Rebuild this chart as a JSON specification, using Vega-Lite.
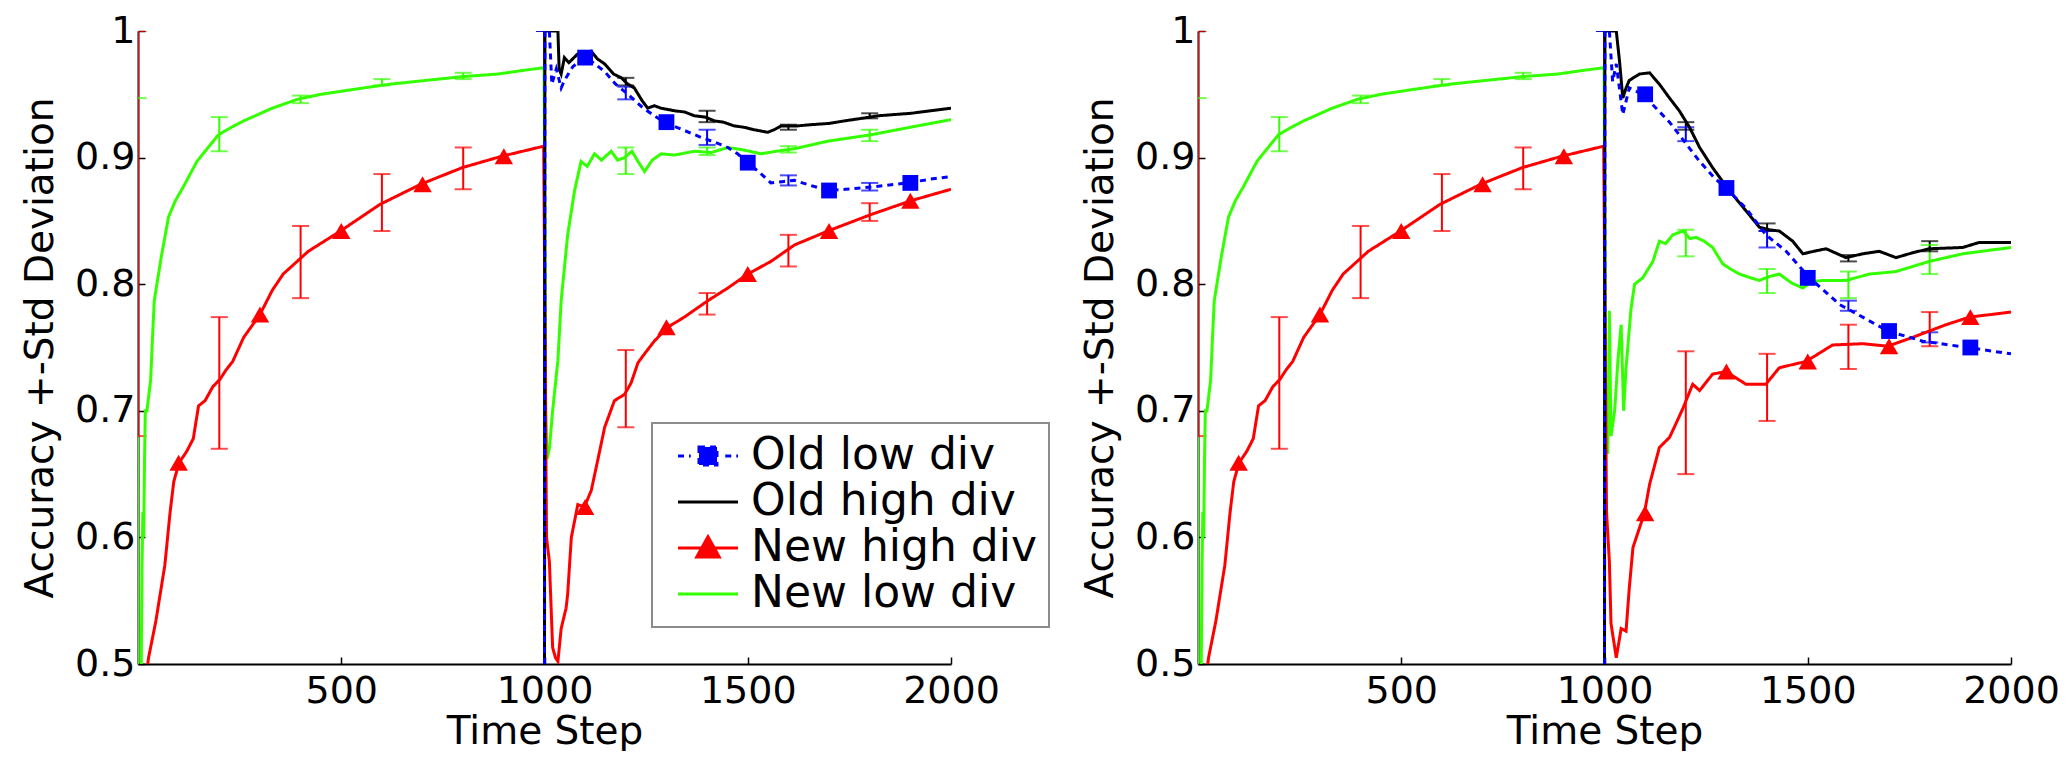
{
"$schema": "https://vega.github.io/schema/vega-lite/v6.json",
"background": "white",
"padding": {"left": 21, "top": 12, "right": 5, "bottom": 0},
"autosize": {"type": "pad"},
"bounds": "flush",
"spacing": 247,
"config": {
  "font": "DejaVu Sans",
  "view": {"stroke": null},
  "axis": {"grid": false, "domainColor": "#000", "domainWidth": 2, "tickColor": "#000", "tickWidth": 1.5, "tickSize": -7,
    "labelFont": "DejaVu Sans", "titleFont": "DejaVu Sans", "labelFontSize": 38, "titleFontSize": 39,
    "labelColor": "#000", "titleColor": "#000", "titleFontWeight": "normal", "labelFlush": false, "labelOverlap": false, "labelBound": false},
  "axisX": {"labelPadding": 15, "titlePadding": 2},
  "axisY": {"labelPadding": 10, "titlePadding": 14}
},
"resolve": {"scale": {"color": "independent", "strokeDash": "independent"}, "legend": {"color": "independent"}},
"datasets": {
"lines": [
{"panel":"both","series":"New low div","step":8,"acc":0.5},
{"panel":"both","series":"New low div","step":10,"acc":0.58},
{"panel":"both","series":"New low div","step":12,"acc":0.62},
{"panel":"both","series":"New low div","step":14,"acc":0.6},
{"panel":"both","series":"New low div","step":16,"acc":0.66},
{"panel":"both","series":"New low div","step":18,"acc":0.7},
{"panel":"both","series":"New low div","step":22,"acc":0.7},
{"panel":"both","series":"New low div","step":31,"acc":0.724},
{"panel":"both","series":"New low div","step":36,"acc":0.76},
{"panel":"both","series":"New low div","step":40,"acc":0.787},
{"panel":"both","series":"New low div","step":57,"acc":0.821},
{"panel":"both","series":"New low div","step":75,"acc":0.853},
{"panel":"both","series":"New low div","step":92,"acc":0.866},
{"panel":"both","series":"New low div","step":110,"acc":0.876},
{"panel":"both","series":"New low div","step":145,"acc":0.897},
{"panel":"both","series":"New low div","step":170,"acc":0.907},
{"panel":"both","series":"New low div","step":198,"acc":0.918},
{"panel":"both","series":"New low div","step":230,"acc":0.924},
{"panel":"both","series":"New low div","step":260,"acc":0.929},
{"panel":"both","series":"New low div","step":295,"acc":0.934},
{"panel":"both","series":"New low div","step":330,"acc":0.939},
{"panel":"both","series":"New low div","step":392,"acc":0.946},
{"panel":"both","series":"New low div","step":450,"acc":0.95},
{"panel":"both","series":"New low div","step":533,"acc":0.954},
{"panel":"both","series":"New low div","step":620,"acc":0.958},
{"panel":"both","series":"New low div","step":709,"acc":0.961},
{"panel":"both","series":"New low div","step":800,"acc":0.964},
{"panel":"both","series":"New low div","step":885,"acc":0.966},
{"panel":"both","series":"New low div","step":950,"acc":0.969},
{"panel":"both","series":"New low div","step":999,"acc":0.971},
{"panel":"both","series":"New high div","step":24,"acc":0.5},
{"panel":"both","series":"New high div","step":26,"acc":0.505},
{"panel":"both","series":"New high div","step":44,"acc":0.534},
{"panel":"both","series":"New high div","step":66,"acc":0.578},
{"panel":"both","series":"New high div","step":79,"acc":0.62},
{"panel":"both","series":"New high div","step":88,"acc":0.644},
{"panel":"both","series":"New high div","step":101,"acc":0.659},
{"panel":"both","series":"New high div","step":120,"acc":0.668},
{"panel":"both","series":"New high div","step":136,"acc":0.678},
{"panel":"both","series":"New high div","step":149,"acc":0.704},
{"panel":"both","series":"New high div","step":165,"acc":0.708},
{"panel":"both","series":"New high div","step":184,"acc":0.719},
{"panel":"both","series":"New high div","step":202,"acc":0.725},
{"panel":"both","series":"New high div","step":216,"acc":0.732},
{"panel":"both","series":"New high div","step":233,"acc":0.739},
{"panel":"both","series":"New high div","step":260,"acc":0.758},
{"panel":"both","series":"New high div","step":300,"acc":0.776},
{"panel":"both","series":"New high div","step":330,"acc":0.795},
{"panel":"both","series":"New high div","step":357,"acc":0.808},
{"panel":"both","series":"New high div","step":419,"acc":0.826},
{"panel":"both","series":"New high div","step":498,"acc":0.842},
{"panel":"both","series":"New high div","step":595,"acc":0.863},
{"panel":"both","series":"New high div","step":696,"acc":0.879},
{"panel":"both","series":"New high div","step":797,"acc":0.892},
{"panel":"both","series":"New high div","step":894,"acc":0.901},
{"panel":"both","series":"New high div","step":998,"acc":0.909},
{"panel":"L","series":"New low div","step":1003,"acc":0.7},
{"panel":"L","series":"New low div","step":1006,"acc":0.662},
{"panel":"L","series":"New low div","step":1012,"acc":0.67},
{"panel":"L","series":"New low div","step":1020,"acc":0.7},
{"panel":"L","series":"New low div","step":1033,"acc":0.74},
{"panel":"L","series":"New low div","step":1041,"acc":0.787},
{"panel":"L","series":"New low div","step":1057,"acc":0.839},
{"panel":"L","series":"New low div","step":1074,"acc":0.874},
{"panel":"L","series":"New low div","step":1090,"acc":0.897},
{"panel":"L","series":"New low div","step":1105,"acc":0.893},
{"panel":"L","series":"New low div","step":1123,"acc":0.903},
{"panel":"L","series":"New low div","step":1140,"acc":0.898},
{"panel":"L","series":"New low div","step":1164,"acc":0.905},
{"panel":"L","series":"New low div","step":1180,"acc":0.898},
{"panel":"L","series":"New low div","step":1197,"acc":0.9},
{"panel":"L","series":"New low div","step":1215,"acc":0.905},
{"panel":"L","series":"New low div","step":1230,"acc":0.897},
{"panel":"L","series":"New low div","step":1246,"acc":0.889},
{"panel":"L","series":"New low div","step":1265,"acc":0.898},
{"panel":"L","series":"New low div","step":1287,"acc":0.903},
{"panel":"L","series":"New low div","step":1320,"acc":0.902},
{"panel":"L","series":"New low div","step":1369,"acc":0.905},
{"panel":"L","series":"New low div","step":1410,"acc":0.904},
{"panel":"L","series":"New low div","step":1451,"acc":0.908},
{"panel":"L","series":"New low div","step":1490,"acc":0.906},
{"panel":"L","series":"New low div","step":1533,"acc":0.903},
{"panel":"L","series":"New low div","step":1570,"acc":0.905},
{"panel":"L","series":"New low div","step":1615,"acc":0.907},
{"panel":"L","series":"New low div","step":1697,"acc":0.913},
{"panel":"L","series":"New low div","step":1803,"acc":0.918},
{"panel":"L","series":"New low div","step":1900,"acc":0.924},
{"panel":"L","series":"New low div","step":2000,"acc":0.93},
{"panel":"L","series":"New high div","step":1005,"acc":0.6},
{"panel":"L","series":"New high div","step":1012,"acc":0.581},
{"panel":"L","series":"New high div","step":1020,"acc":0.513},
{"panel":"L","series":"New high div","step":1027,"acc":0.505},
{"panel":"L","series":"New high div","step":1033,"acc":0.502},
{"panel":"L","series":"New high div","step":1041,"acc":0.528},
{"panel":"L","series":"New high div","step":1053,"acc":0.544},
{"panel":"L","series":"New high div","step":1057,"acc":0.555},
{"panel":"L","series":"New high div","step":1066,"acc":0.6},
{"panel":"L","series":"New high div","step":1074,"acc":0.613},
{"panel":"L","series":"New high div","step":1082,"acc":0.626},
{"panel":"L","series":"New high div","step":1098,"acc":0.624},
{"panel":"L","series":"New high div","step":1115,"acc":0.637},
{"panel":"L","series":"New high div","step":1131,"acc":0.661},
{"panel":"L","series":"New high div","step":1148,"acc":0.687},
{"panel":"L","series":"New high div","step":1172,"acc":0.708},
{"panel":"L","series":"New high div","step":1197,"acc":0.713},
{"panel":"L","series":"New high div","step":1213,"acc":0.722},
{"panel":"L","series":"New high div","step":1230,"acc":0.738},
{"panel":"L","series":"New high div","step":1246,"acc":0.745},
{"panel":"L","series":"New high div","step":1270,"acc":0.755},
{"panel":"L","series":"New high div","step":1303,"acc":0.766},
{"panel":"L","series":"New high div","step":1344,"acc":0.774},
{"panel":"L","series":"New high div","step":1402,"acc":0.787},
{"panel":"L","series":"New high div","step":1451,"acc":0.797},
{"panel":"L","series":"New high div","step":1500,"acc":0.808},
{"panel":"L","series":"New high div","step":1557,"acc":0.818},
{"panel":"L","series":"New high div","step":1615,"acc":0.831},
{"panel":"L","series":"New high div","step":1697,"acc":0.842},
{"panel":"L","series":"New high div","step":1803,"acc":0.855},
{"panel":"L","series":"New high div","step":1902,"acc":0.866},
{"panel":"L","series":"New high div","step":2000,"acc":0.875},
{"panel":"L","series":"Old high div","step":1000,"acc":0.5},
{"panel":"L","series":"Old high div","step":1001,"acc":1.0},
{"panel":"L","series":"Old high div","step":1033,"acc":1.0},
{"panel":"L","series":"Old high div","step":1036,"acc":0.97},
{"panel":"L","series":"Old high div","step":1041,"acc":0.966},
{"panel":"L","series":"Old high div","step":1049,"acc":0.979},
{"panel":"L","series":"Old high div","step":1060,"acc":0.975},
{"panel":"L","series":"Old high div","step":1082,"acc":0.982},
{"panel":"L","series":"Old high div","step":1100,"acc":0.983},
{"panel":"L","series":"Old high div","step":1115,"acc":0.984},
{"panel":"L","series":"Old high div","step":1130,"acc":0.978},
{"panel":"L","series":"Old high div","step":1148,"acc":0.974},
{"panel":"L","series":"Old high div","step":1170,"acc":0.966},
{"panel":"L","series":"Old high div","step":1189,"acc":0.963},
{"panel":"L","series":"Old high div","step":1205,"acc":0.958},
{"panel":"L","series":"Old high div","step":1221,"acc":0.955},
{"panel":"L","series":"Old high div","step":1240,"acc":0.945},
{"panel":"L","series":"Old high div","step":1254,"acc":0.939},
{"panel":"L","series":"Old high div","step":1270,"acc":0.941},
{"panel":"L","series":"Old high div","step":1287,"acc":0.939},
{"panel":"L","series":"Old high div","step":1320,"acc":0.937},
{"panel":"L","series":"Old high div","step":1345,"acc":0.936},
{"panel":"L","series":"Old high div","step":1369,"acc":0.933},
{"panel":"L","series":"Old high div","step":1395,"acc":0.932},
{"panel":"L","series":"Old high div","step":1418,"acc":0.929},
{"panel":"L","series":"Old high div","step":1440,"acc":0.928},
{"panel":"L","series":"Old high div","step":1467,"acc":0.925},
{"panel":"L","series":"Old high div","step":1490,"acc":0.924},
{"panel":"L","series":"Old high div","step":1516,"acc":0.922},
{"panel":"L","series":"Old high div","step":1549,"acc":0.92},
{"panel":"L","series":"Old high div","step":1565,"acc":0.922},
{"panel":"L","series":"Old high div","step":1582,"acc":0.925},
{"panel":"L","series":"Old high div","step":1620,"acc":0.925},
{"panel":"L","series":"Old high div","step":1656,"acc":0.926},
{"panel":"L","series":"Old high div","step":1700,"acc":0.927},
{"panel":"L","series":"Old high div","step":1738,"acc":0.929},
{"panel":"L","series":"Old high div","step":1780,"acc":0.931},
{"panel":"L","series":"Old high div","step":1820,"acc":0.933},
{"panel":"L","series":"Old high div","step":1860,"acc":0.934},
{"panel":"L","series":"Old high div","step":1902,"acc":0.935},
{"panel":"L","series":"Old high div","step":1950,"acc":0.937},
{"panel":"L","series":"Old high div","step":2000,"acc":0.939},
{"panel":"L","series":"Old low div","step":1000,"acc":0.5},
{"panel":"L","series":"Old low div","step":1001,"acc":1.0},
{"panel":"L","series":"Old low div","step":1012,"acc":1.0},
{"panel":"L","series":"Old low div","step":1018,"acc":0.958},
{"panel":"L","series":"Old low div","step":1029,"acc":0.97},
{"panel":"L","series":"Old low div","step":1041,"acc":0.955},
{"panel":"L","series":"Old low div","step":1049,"acc":0.961},
{"panel":"L","series":"Old low div","step":1070,"acc":0.972},
{"panel":"L","series":"Old low div","step":1098,"acc":0.979},
{"panel":"L","series":"Old low div","step":1120,"acc":0.975},
{"panel":"L","series":"Old low div","step":1148,"acc":0.968},
{"panel":"L","series":"Old low div","step":1175,"acc":0.958},
{"panel":"L","series":"Old low div","step":1205,"acc":0.95},
{"panel":"L","series":"Old low div","step":1240,"acc":0.94},
{"panel":"L","series":"Old low div","step":1270,"acc":0.933},
{"panel":"L","series":"Old low div","step":1295,"acc":0.928},
{"panel":"L","series":"Old low div","step":1340,"acc":0.922},
{"panel":"L","series":"Old low div","step":1385,"acc":0.916},
{"panel":"L","series":"Old low div","step":1420,"acc":0.912},
{"panel":"L","series":"Old low div","step":1451,"acc":0.908},
{"panel":"L","series":"Old low div","step":1475,"acc":0.903},
{"panel":"L","series":"Old low div","step":1500,"acc":0.896},
{"panel":"L","series":"Old low div","step":1530,"acc":0.888},
{"panel":"L","series":"Old low div","step":1557,"acc":0.88},
{"panel":"L","series":"Old low div","step":1585,"acc":0.881},
{"panel":"L","series":"Old low div","step":1615,"acc":0.882},
{"panel":"L","series":"Old low div","step":1655,"acc":0.878},
{"panel":"L","series":"Old low div","step":1697,"acc":0.874},
{"panel":"L","series":"Old low div","step":1740,"acc":0.875},
{"panel":"L","series":"Old low div","step":1779,"acc":0.876},
{"panel":"L","series":"Old low div","step":1840,"acc":0.878},
{"panel":"L","series":"Old low div","step":1893,"acc":0.88},
{"panel":"L","series":"Old low div","step":1950,"acc":0.883},
{"panel":"L","series":"Old low div","step":2000,"acc":0.885},
{"panel":"R","series":"New low div","step":1003,"acc":0.68},
{"panel":"R","series":"New low div","step":1008,"acc":0.666},
{"panel":"R","series":"New low div","step":1012,"acc":0.779},
{"panel":"R","series":"New low div","step":1016,"acc":0.68},
{"panel":"R","series":"New low div","step":1025,"acc":0.7},
{"panel":"R","series":"New low div","step":1033,"acc":0.74},
{"panel":"R","series":"New low div","step":1041,"acc":0.768},
{"panel":"R","series":"New low div","step":1047,"acc":0.7},
{"panel":"R","series":"New low div","step":1053,"acc":0.734},
{"panel":"R","series":"New low div","step":1065,"acc":0.78},
{"panel":"R","series":"New low div","step":1074,"acc":0.8},
{"panel":"R","series":"New low div","step":1094,"acc":0.805},
{"panel":"R","series":"New low div","step":1119,"acc":0.818},
{"panel":"R","series":"New low div","step":1135,"acc":0.834},
{"panel":"R","series":"New low div","step":1150,"acc":0.832},
{"panel":"R","series":"New low div","step":1168,"acc":0.839},
{"panel":"R","series":"New low div","step":1193,"acc":0.842},
{"panel":"R","series":"New low div","step":1210,"acc":0.836},
{"panel":"R","series":"New low div","step":1225,"acc":0.837},
{"panel":"R","series":"New low div","step":1245,"acc":0.834},
{"panel":"R","series":"New low div","step":1266,"acc":0.829},
{"panel":"R","series":"New low div","step":1291,"acc":0.816},
{"panel":"R","series":"New low div","step":1310,"acc":0.812},
{"panel":"R","series":"New low div","step":1332,"acc":0.808},
{"panel":"R","series":"New low div","step":1360,"acc":0.805},
{"panel":"R","series":"New low div","step":1381,"acc":0.803},
{"panel":"R","series":"New low div","step":1405,"acc":0.806},
{"panel":"R","series":"New low div","step":1430,"acc":0.808},
{"panel":"R","series":"New low div","step":1460,"acc":0.801},
{"panel":"R","series":"New low div","step":1488,"acc":0.797},
{"panel":"R","series":"New low div","step":1510,"acc":0.802},
{"panel":"R","series":"New low div","step":1537,"acc":0.803},
{"panel":"R","series":"New low div","step":1594,"acc":0.803},
{"panel":"R","series":"New low div","step":1652,"acc":0.808},
{"panel":"R","series":"New low div","step":1717,"acc":0.81},
{"panel":"R","series":"New low div","step":1799,"acc":0.818},
{"panel":"R","series":"New low div","step":1881,"acc":0.824},
{"panel":"R","series":"New low div","step":2000,"acc":0.829},
{"panel":"R","series":"New high div","step":1005,"acc":0.62},
{"panel":"R","series":"New high div","step":1012,"acc":0.581},
{"panel":"R","series":"New high div","step":1016,"acc":0.532},
{"panel":"R","series":"New high div","step":1029,"acc":0.505},
{"panel":"R","series":"New high div","step":1041,"acc":0.528},
{"panel":"R","series":"New high div","step":1053,"acc":0.526},
{"panel":"R","series":"New high div","step":1061,"acc":0.56},
{"panel":"R","series":"New high div","step":1070,"acc":0.592},
{"panel":"R","series":"New high div","step":1098,"acc":0.619},
{"panel":"R","series":"New high div","step":1111,"acc":0.642},
{"panel":"R","series":"New high div","step":1135,"acc":0.671},
{"panel":"R","series":"New high div","step":1160,"acc":0.679},
{"panel":"R","series":"New high div","step":1176,"acc":0.69},
{"panel":"R","series":"New high div","step":1193,"acc":0.702},
{"panel":"R","series":"New high div","step":1217,"acc":0.721},
{"panel":"R","series":"New high div","step":1234,"acc":0.716},
{"panel":"R","series":"New high div","step":1266,"acc":0.729},
{"panel":"R","series":"New high div","step":1299,"acc":0.731},
{"panel":"R","series":"New high div","step":1348,"acc":0.721},
{"panel":"R","series":"New high div","step":1397,"acc":0.721},
{"panel":"R","series":"New high div","step":1430,"acc":0.734},
{"panel":"R","series":"New high div","step":1496,"acc":0.739},
{"panel":"R","series":"New high div","step":1561,"acc":0.752},
{"panel":"R","series":"New high div","step":1635,"acc":0.753},
{"panel":"R","series":"New high div","step":1697,"acc":0.751},
{"panel":"R","series":"New high div","step":1758,"acc":0.758},
{"panel":"R","series":"New high div","step":1840,"acc":0.768},
{"panel":"R","series":"New high div","step":1898,"acc":0.774},
{"panel":"R","series":"New high div","step":2000,"acc":0.778},
{"panel":"R","series":"Old high div","step":1000,"acc":0.5},
{"panel":"R","series":"Old high div","step":1001,"acc":1.0},
{"panel":"R","series":"Old high div","step":1029,"acc":1.0},
{"panel":"R","series":"Old high div","step":1037,"acc":0.976},
{"panel":"R","series":"Old high div","step":1045,"acc":0.947},
{"panel":"R","series":"Old high div","step":1053,"acc":0.955},
{"panel":"R","series":"Old high div","step":1061,"acc":0.961},
{"panel":"R","series":"Old high div","step":1086,"acc":0.966},
{"panel":"R","series":"Old high div","step":1111,"acc":0.967},
{"panel":"R","series":"Old high div","step":1135,"acc":0.958},
{"panel":"R","series":"Old high div","step":1160,"acc":0.947},
{"panel":"R","series":"Old high div","step":1184,"acc":0.937},
{"panel":"R","series":"Old high div","step":1209,"acc":0.924},
{"panel":"R","series":"Old high div","step":1234,"acc":0.908},
{"panel":"R","series":"Old high div","step":1250,"acc":0.9},
{"panel":"R","series":"Old high div","step":1266,"acc":0.892},
{"panel":"R","series":"Old high div","step":1307,"acc":0.874},
{"panel":"R","series":"Old high div","step":1348,"acc":0.858},
{"panel":"R","series":"Old high div","step":1381,"acc":0.845},
{"panel":"R","series":"Old high div","step":1405,"acc":0.843},
{"panel":"R","series":"Old high div","step":1430,"acc":0.842},
{"panel":"R","series":"Old high div","step":1463,"acc":0.834},
{"panel":"R","series":"Old high div","step":1488,"acc":0.824},
{"panel":"R","series":"Old high div","step":1515,"acc":0.826},
{"panel":"R","series":"Old high div","step":1545,"acc":0.828},
{"panel":"R","series":"Old high div","step":1594,"acc":0.821},
{"panel":"R","series":"Old high div","step":1635,"acc":0.824},
{"panel":"R","series":"Old high div","step":1676,"acc":0.826},
{"panel":"R","series":"Old high div","step":1717,"acc":0.821},
{"panel":"R","series":"Old high div","step":1760,"acc":0.825},
{"panel":"R","series":"Old high div","step":1799,"acc":0.828},
{"panel":"R","series":"Old high div","step":1881,"acc":0.829},
{"panel":"R","series":"Old high div","step":1922,"acc":0.833},
{"panel":"R","series":"Old high div","step":2000,"acc":0.833},
{"panel":"R","series":"Old low div","step":1000,"acc":0.5},
{"panel":"R","series":"Old low div","step":1001,"acc":1.0},
{"panel":"R","series":"Old low div","step":1012,"acc":1.0},
{"panel":"R","series":"Old low div","step":1020,"acc":0.96},
{"panel":"R","series":"Old low div","step":1029,"acc":0.974},
{"panel":"R","series":"Old low div","step":1045,"acc":0.934},
{"panel":"R","series":"Old low div","step":1061,"acc":0.955},
{"panel":"R","series":"Old low div","step":1094,"acc":0.95},
{"panel":"R","series":"Old low div","step":1127,"acc":0.939},
{"panel":"R","series":"Old low div","step":1160,"acc":0.928},
{"panel":"R","series":"Old low div","step":1184,"acc":0.918},
{"panel":"R","series":"Old low div","step":1234,"acc":0.897},
{"panel":"R","series":"Old low div","step":1270,"acc":0.884},
{"panel":"R","series":"Old low div","step":1299,"acc":0.876},
{"panel":"R","series":"Old low div","step":1348,"acc":0.86},
{"panel":"R","series":"Old low div","step":1397,"acc":0.839},
{"panel":"R","series":"Old low div","step":1447,"acc":0.826},
{"panel":"R","series":"Old low div","step":1504,"acc":0.805},
{"panel":"R","series":"Old low div","step":1540,"acc":0.795},
{"panel":"R","series":"Old low div","step":1578,"acc":0.784},
{"panel":"R","series":"Old low div","step":1635,"acc":0.774},
{"panel":"R","series":"Old low div","step":1697,"acc":0.763},
{"panel":"R","series":"Old low div","step":1783,"acc":0.755},
{"panel":"R","series":"Old low div","step":1893,"acc":0.75},
{"panel":"R","series":"Old low div","step":2000,"acc":0.745}
],
"errs": [
{"panel":"both","series":"New low div","step":0,"lo":0.4,"hi":0.947},
{"panel":"both","series":"New low div","step":200,"lo":0.905,"hi":0.932},
{"panel":"both","series":"New low div","step":400,"lo":0.943,"hi":0.949},
{"panel":"both","series":"New low div","step":600,"lo":0.957,"hi":0.962},
{"panel":"both","series":"New low div","step":800,"lo":0.962,"hi":0.967},
{"panel":"both","series":"New high div","step":0,"lo":0.68,"hi":1.0},
{"panel":"both","series":"New high div","step":200,"lo":0.67,"hi":0.774},
{"panel":"both","series":"New high div","step":400,"lo":0.789,"hi":0.846},
{"panel":"both","series":"New high div","step":600,"lo":0.842,"hi":0.887},
{"panel":"both","series":"New high div","step":800,"lo":0.875,"hi":0.908},
{"panel":"L","series":"New low div","step":1200,"lo":0.887,"hi":0.908},
{"panel":"L","series":"New low div","step":1400,"lo":0.902,"hi":0.908},
{"panel":"L","series":"New low div","step":1600,"lo":0.904,"hi":0.909},
{"panel":"L","series":"New low div","step":1800,"lo":0.913,"hi":0.922},
{"panel":"L","series":"New high div","step":1200,"lo":0.687,"hi":0.748},
{"panel":"L","series":"New high div","step":1400,"lo":0.776,"hi":0.793},
{"panel":"L","series":"New high div","step":1600,"lo":0.814,"hi":0.839},
{"panel":"L","series":"New high div","step":1800,"lo":0.85,"hi":0.864},
{"panel":"L","series":"Old high div","step":1000,"lo":0.4,"hi":1.0},
{"panel":"L","series":"Old high div","step":1200,"lo":0.957,"hi":0.963},
{"panel":"L","series":"Old high div","step":1400,"lo":0.928,"hi":0.937},
{"panel":"L","series":"Old high div","step":1600,"lo":0.922,"hi":0.926},
{"panel":"L","series":"Old high div","step":1800,"lo":0.931,"hi":0.935},
{"panel":"L","series":"Old low div","step":1000,"lo":0.4,"hi":1.0},
{"panel":"L","series":"Old low div","step":1200,"lo":0.946,"hi":0.956},
{"panel":"L","series":"Old low div","step":1400,"lo":0.91,"hi":0.922},
{"panel":"L","series":"Old low div","step":1600,"lo":0.878,"hi":0.886},
{"panel":"L","series":"Old low div","step":1800,"lo":0.874,"hi":0.88},
{"panel":"R","series":"New low div","step":1200,"lo":0.822,"hi":0.843},
{"panel":"R","series":"New low div","step":1400,"lo":0.793,"hi":0.812},
{"panel":"R","series":"New low div","step":1600,"lo":0.789,"hi":0.81},
{"panel":"R","series":"New low div","step":1800,"lo":0.808,"hi":0.831},
{"panel":"R","series":"New high div","step":1200,"lo":0.65,"hi":0.747},
{"panel":"R","series":"New high div","step":1400,"lo":0.692,"hi":0.745},
{"panel":"R","series":"New high div","step":1600,"lo":0.733,"hi":0.768},
{"panel":"R","series":"New high div","step":1800,"lo":0.751,"hi":0.778},
{"panel":"R","series":"Old high div","step":1000,"lo":0.4,"hi":1.0},
{"panel":"R","series":"Old high div","step":1200,"lo":0.922,"hi":0.928},
{"panel":"R","series":"Old high div","step":1400,"lo":0.842,"hi":0.848},
{"panel":"R","series":"Old high div","step":1600,"lo":0.818,"hi":0.823},
{"panel":"R","series":"Old high div","step":1800,"lo":0.826,"hi":0.834},
{"panel":"R","series":"Old low div","step":1000,"lo":0.4,"hi":1.0},
{"panel":"R","series":"Old low div","step":1200,"lo":0.913,"hi":0.924},
{"panel":"R","series":"Old low div","step":1400,"lo":0.829,"hi":0.842},
{"panel":"R","series":"Old low div","step":1600,"lo":0.779,"hi":0.787},
{"panel":"R","series":"Old low div","step":1800,"lo":0.754,"hi":0.762}
],
"marks": [
{"panel":"both","series":"New high div","step":100,"acc":0.659},
{"panel":"both","series":"New high div","step":300,"acc":0.776},
{"panel":"both","series":"New high div","step":500,"acc":0.842},
{"panel":"both","series":"New high div","step":700,"acc":0.879},
{"panel":"both","series":"New high div","step":900,"acc":0.901},
{"panel":"L","series":"New high div","step":1100,"acc":0.624},
{"panel":"L","series":"New high div","step":1300,"acc":0.766},
{"panel":"L","series":"New high div","step":1500,"acc":0.808},
{"panel":"L","series":"New high div","step":1700,"acc":0.842},
{"panel":"L","series":"New high div","step":1900,"acc":0.866},
{"panel":"L","series":"Old low div","step":1100,"acc":0.979},
{"panel":"L","series":"Old low div","step":1300,"acc":0.928},
{"panel":"L","series":"Old low div","step":1500,"acc":0.896},
{"panel":"L","series":"Old low div","step":1700,"acc":0.874},
{"panel":"L","series":"Old low div","step":1900,"acc":0.88},
{"panel":"R","series":"New high div","step":1100,"acc":0.619},
{"panel":"R","series":"New high div","step":1300,"acc":0.731},
{"panel":"R","series":"New high div","step":1500,"acc":0.739},
{"panel":"R","series":"New high div","step":1700,"acc":0.751},
{"panel":"R","series":"New high div","step":1900,"acc":0.774},
{"panel":"R","series":"Old low div","step":1100,"acc":0.95},
{"panel":"R","series":"Old low div","step":1300,"acc":0.876},
{"panel":"R","series":"Old low div","step":1500,"acc":0.805},
{"panel":"R","series":"Old low div","step":1700,"acc":0.763},
{"panel":"R","series":"Old low div","step":1900,"acc":0.75}
]
},
"hconcat": [
{
 "width": 813, "height": 633,
 "layer": [
  {"data": {"name": "errs"}, "transform": [{"filter": "datum.panel !== 'R'"}],
   "mark": {"type": "rule", "strokeWidth": 2, "clip": true},
   "encoding": {
     "x": {"field": "step", "type": "quantitative", "scale": {"domain": [0, 2000], "nice": false, "zero": false}, "axis": {"values": [500, 1000, 1500, 2000], "format": "d", "title": "Time Step"}},
     "y": {"field": "lo", "type": "quantitative", "scale": {"domain": [0.5, 1], "nice": false, "zero": false}, "axis": {"values": [0.5, 0.6, 0.7, 0.8, 0.9, 1], "format": ".1~f", "title": "Accuracy +-Std Deviation"}},
     "y2": {"field": "hi"},
     "color": {"field": "series", "type": "nominal", "scale": {"domain": ["Old low div", "Old high div", "New high div", "New low div"], "range": ["#0000ff", "#000000", "#ff0000", "#33ff00"]}}
   }},
  {"data": {"name": "errs"}, "transform": [{"filter": "datum.panel !== 'R'"}],
   "mark": {"type": "tick", "orient": "horizontal", "size": 17, "thickness": 2, "clip": true},
   "encoding": {
     "x": {"field": "step", "type": "quantitative", "scale": {"domain": [0, 2000], "nice": false, "zero": false}, "axis": {"values": [500, 1000, 1500, 2000], "format": "d", "title": "Time Step"}},
     "y": {"field": "lo", "type": "quantitative", "scale": {"domain": [0.5, 1], "nice": false, "zero": false}, "axis": {"values": [0.5, 0.6, 0.7, 0.8, 0.9, 1], "format": ".1~f", "title": "Accuracy +-Std Deviation"}},
     "color": {"field": "series", "type": "nominal", "scale": {"domain": ["Old low div", "Old high div", "New high div", "New low div"], "range": ["#0000ff", "#000000", "#ff0000", "#33ff00"]}}
   }},
  {"data": {"name": "errs"}, "transform": [{"filter": "datum.panel !== 'R'"}],
   "mark": {"type": "tick", "orient": "horizontal", "size": 17, "thickness": 2, "clip": true},
   "encoding": {
     "x": {"field": "step", "type": "quantitative", "scale": {"domain": [0, 2000], "nice": false, "zero": false}, "axis": {"values": [500, 1000, 1500, 2000], "format": "d", "title": "Time Step"}},
     "y": {"field": "hi", "type": "quantitative", "scale": {"domain": [0.5, 1], "nice": false, "zero": false}, "axis": {"values": [0.5, 0.6, 0.7, 0.8, 0.9, 1], "format": ".1~f", "title": "Accuracy +-Std Deviation"}},
     "color": {"field": "series", "type": "nominal", "scale": {"domain": ["Old low div", "Old high div", "New high div", "New low div"], "range": ["#0000ff", "#000000", "#ff0000", "#33ff00"]}}
   }},
  {"data": {"name": "lines"}, "transform": [{"filter": "datum.panel !== 'R'"}],
   "mark": {"type": "line", "strokeWidth": 3, "clip": true},
   "encoding": {
     "x": {"field": "step", "type": "quantitative", "scale": {"domain": [0, 2000], "nice": false, "zero": false}, "axis": {"values": [500, 1000, 1500, 2000], "format": "d", "title": "Time Step"}},
     "y": {"field": "acc", "type": "quantitative", "scale": {"domain": [0.5, 1], "nice": false, "zero": false}, "axis": {"values": [0.5, 0.6, 0.7, 0.8, 0.9, 1], "format": ".1~f", "title": "Accuracy +-Std Deviation"}},
     "color": {"field": "series", "type": "nominal", "scale": {"domain": ["Old low div", "Old high div", "New high div", "New low div"], "range": ["#0000ff", "#000000", "#ff0000", "#33ff00"]},
       "legend": {"orient": "none", "legendX": 514, "legendY": 392, "title": null, "direction": "vertical",
         "labelFontSize": 44, "labelFont": "DejaVu Sans", "labelColor": "#000", "labelLimit": 0, "symbolSize": 900, "symbolStrokeWidth": 3,
         "symbolOffset": 23, "labelOffset": 21, "padding": 11, "rowPadding": 2, "strokeColor": "#8c8c8c", "fillColor": "#ffffff", "cornerRadius": 0,
         "encode": {
           "symbols": {"update": {
             "shape": {"signal": "datum.value === 'Old low div' ? 'M-2,0H-1.15M1.15,0H2M-0.6,-0.6H0.6V0.6H-0.6Z' : datum.value === 'New high div' ? 'M-2,0H2M0,-0.75L0.75,0.6H-0.75Z' : 'M-2,0H2'"},
             "fill": {"signal": "datum.value === 'Old low div' ? '#0000ff' : datum.value === 'New high div' ? '#ff0000' : 'transparent'"},
             "stroke": {"signal": "datum.value === 'Old low div' ? '#0000ff' : datum.value === 'Old high div' ? '#000000' : datum.value === 'New high div' ? '#ff0000' : '#33ff00'"},
             "strokeDash": {"value": [1, 0]},
             "opacity": {"value": 1}
           }},
           "legend": {"update": {"strokeWidth": {"value": 2}}}
         }}},
     "strokeDash": {"field": "series", "type": "nominal", "scale": {"domain": ["Old low div", "Old high div", "New high div", "New low div"], "range": [[6, 5], [1, 0], [1, 0], [1, 0]]}, "legend": null}
   }},
  {"data": {"name": "marks"}, "transform": [{"filter": "datum.panel !== 'R' && datum.series === 'Old low div'"}],
   "mark": {"type": "point", "shape": "square", "filled": true, "size": 250, "color": "#0000ff", "opacity": 1, "clip": true},
   "encoding": {
     "x": {"field": "step", "type": "quantitative", "scale": {"domain": [0, 2000], "nice": false, "zero": false}, "axis": {"values": [500, 1000, 1500, 2000], "format": "d", "title": "Time Step"}},
     "y": {"field": "acc", "type": "quantitative", "scale": {"domain": [0.5, 1], "nice": false, "zero": false}, "axis": {"values": [0.5, 0.6, 0.7, 0.8, 0.9, 1], "format": ".1~f", "title": "Accuracy +-Std Deviation"}}
   }},
  {"data": {"name": "marks"}, "transform": [{"filter": "datum.panel !== 'R' && datum.series === 'New high div'"}],
   "mark": {"type": "point", "shape": "triangle-up", "filled": true, "size": 340, "color": "#ff0000", "opacity": 1, "clip": true},
   "encoding": {
     "x": {"field": "step", "type": "quantitative", "scale": {"domain": [0, 2000], "nice": false, "zero": false}, "axis": {"values": [500, 1000, 1500, 2000], "format": "d", "title": "Time Step"}},
     "y": {"field": "acc", "type": "quantitative", "scale": {"domain": [0.5, 1], "nice": false, "zero": false}, "axis": {"values": [0.5, 0.6, 0.7, 0.8, 0.9, 1], "format": ".1~f", "title": "Accuracy +-Std Deviation"}}
   }}
 ]
},
{
 "width": 813, "height": 633,
 "layer": [
  {"data": {"name": "errs"}, "transform": [{"filter": "datum.panel !== 'L'"}],
   "mark": {"type": "rule", "strokeWidth": 2, "clip": true},
   "encoding": {
     "x": {"field": "step", "type": "quantitative", "scale": {"domain": [0, 2000], "nice": false, "zero": false}, "axis": {"values": [500, 1000, 1500, 2000], "format": "d", "title": "Time Step"}},
     "y": {"field": "lo", "type": "quantitative", "scale": {"domain": [0.5, 1], "nice": false, "zero": false}, "axis": {"values": [0.5, 0.6, 0.7, 0.8, 0.9, 1], "format": ".1~f", "title": "Accuracy +-Std Deviation"}},
     "y2": {"field": "hi"},
     "color": {"field": "series", "type": "nominal", "scale": {"domain": ["Old low div", "Old high div", "New high div", "New low div"], "range": ["#0000ff", "#000000", "#ff0000", "#33ff00"]}, "legend": null}
   }},
  {"data": {"name": "errs"}, "transform": [{"filter": "datum.panel !== 'L'"}],
   "mark": {"type": "tick", "orient": "horizontal", "size": 17, "thickness": 2, "clip": true},
   "encoding": {
     "x": {"field": "step", "type": "quantitative", "scale": {"domain": [0, 2000], "nice": false, "zero": false}, "axis": {"values": [500, 1000, 1500, 2000], "format": "d", "title": "Time Step"}},
     "y": {"field": "lo", "type": "quantitative", "scale": {"domain": [0.5, 1], "nice": false, "zero": false}, "axis": {"values": [0.5, 0.6, 0.7, 0.8, 0.9, 1], "format": ".1~f", "title": "Accuracy +-Std Deviation"}},
     "color": {"field": "series", "type": "nominal", "scale": {"domain": ["Old low div", "Old high div", "New high div", "New low div"], "range": ["#0000ff", "#000000", "#ff0000", "#33ff00"]}, "legend": null}
   }},
  {"data": {"name": "errs"}, "transform": [{"filter": "datum.panel !== 'L'"}],
   "mark": {"type": "tick", "orient": "horizontal", "size": 17, "thickness": 2, "clip": true},
   "encoding": {
     "x": {"field": "step", "type": "quantitative", "scale": {"domain": [0, 2000], "nice": false, "zero": false}, "axis": {"values": [500, 1000, 1500, 2000], "format": "d", "title": "Time Step"}},
     "y": {"field": "hi", "type": "quantitative", "scale": {"domain": [0.5, 1], "nice": false, "zero": false}, "axis": {"values": [0.5, 0.6, 0.7, 0.8, 0.9, 1], "format": ".1~f", "title": "Accuracy +-Std Deviation"}},
     "color": {"field": "series", "type": "nominal", "scale": {"domain": ["Old low div", "Old high div", "New high div", "New low div"], "range": ["#0000ff", "#000000", "#ff0000", "#33ff00"]}, "legend": null}
   }},
  {"data": {"name": "lines"}, "transform": [{"filter": "datum.panel !== 'L'"}],
   "mark": {"type": "line", "strokeWidth": 3, "clip": true},
   "encoding": {
     "x": {"field": "step", "type": "quantitative", "scale": {"domain": [0, 2000], "nice": false, "zero": false}, "axis": {"values": [500, 1000, 1500, 2000], "format": "d", "title": "Time Step"}},
     "y": {"field": "acc", "type": "quantitative", "scale": {"domain": [0.5, 1], "nice": false, "zero": false}, "axis": {"values": [0.5, 0.6, 0.7, 0.8, 0.9, 1], "format": ".1~f", "title": "Accuracy +-Std Deviation"}},
     "color": {"field": "series", "type": "nominal", "scale": {"domain": ["Old low div", "Old high div", "New high div", "New low div"], "range": ["#0000ff", "#000000", "#ff0000", "#33ff00"]}, "legend": null},
     "strokeDash": {"field": "series", "type": "nominal", "scale": {"domain": ["Old low div", "Old high div", "New high div", "New low div"], "range": [[6, 5], [1, 0], [1, 0], [1, 0]]}, "legend": null}
   }},
  {"data": {"name": "marks"}, "transform": [{"filter": "datum.panel !== 'L' && datum.series === 'Old low div'"}],
   "mark": {"type": "point", "shape": "square", "filled": true, "size": 250, "color": "#0000ff", "opacity": 1, "clip": true},
   "encoding": {
     "x": {"field": "step", "type": "quantitative", "scale": {"domain": [0, 2000], "nice": false, "zero": false}, "axis": {"values": [500, 1000, 1500, 2000], "format": "d", "title": "Time Step"}},
     "y": {"field": "acc", "type": "quantitative", "scale": {"domain": [0.5, 1], "nice": false, "zero": false}, "axis": {"values": [0.5, 0.6, 0.7, 0.8, 0.9, 1], "format": ".1~f", "title": "Accuracy +-Std Deviation"}}
   }},
  {"data": {"name": "marks"}, "transform": [{"filter": "datum.panel !== 'L' && datum.series === 'New high div'"}],
   "mark": {"type": "point", "shape": "triangle-up", "filled": true, "size": 340, "color": "#ff0000", "opacity": 1, "clip": true},
   "encoding": {
     "x": {"field": "step", "type": "quantitative", "scale": {"domain": [0, 2000], "nice": false, "zero": false}, "axis": {"values": [500, 1000, 1500, 2000], "format": "d", "title": "Time Step"}},
     "y": {"field": "acc", "type": "quantitative", "scale": {"domain": [0.5, 1], "nice": false, "zero": false}, "axis": {"values": [0.5, 0.6, 0.7, 0.8, 0.9, 1], "format": ".1~f", "title": "Accuracy +-Std Deviation"}}
   }}
 ]
}
]
}
